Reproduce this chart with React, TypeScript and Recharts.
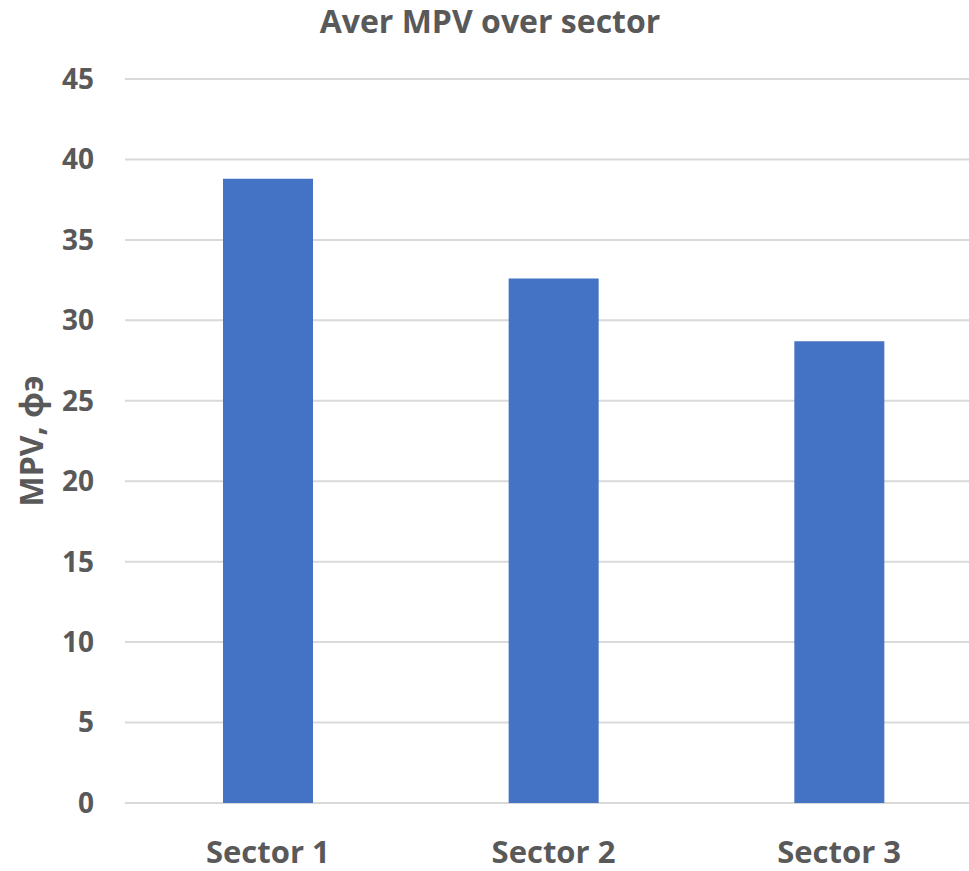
import React from 'react';
import { BarChart, Bar, XAxis, YAxis, CartesianGrid, Label } from 'recharts';

const categories = ['Sector 1', 'Sector 2', 'Sector 3'];
const mpvValues = [38.8, 32.6, 28.7];
const yTicks = [0, 5, 10, 15, 20, 25, 30, 35, 40, 45];

const data = categories.map((name, i) => ({ name, value: mpvValues[i] }));

const FONT = '"Open Sans", "Noto Sans", sans-serif';
const TEXT = '#595959';

export default function App() {
  return (
    <div style={{ position: 'absolute', left: 0, top: 0, width: 969, height: 871, overflow: 'hidden', background: '#fff' }}>
      <BarChart
        width={1000}
        height={871}
        data={data}
        margin={{ top: 79, right: 18, bottom: 0, left: 0 }}
        barSize={90}
      >
        <text x={490} y={33} textAnchor="middle" fontFamily={FONT} fontWeight={700} fontSize={32} fill={TEXT}>
          Aver MPV over sector
        </text>
        <CartesianGrid horizontal vertical={false} stroke="#D9D9D9" strokeWidth={2} />
        <XAxis
          dataKey="name"
          axisLine={false}
          tickLine={false}
          tickSize={0}
          tickMargin={38}
          height={68}
          interval={0}
          tick={{ fontFamily: FONT, fontWeight: 700, fontSize: 31, fill: TEXT }}
        />
        <YAxis
          domain={[0, 45]}
          ticks={yTicks}
          interval={0}
          axisLine={false}
          tickLine={false}
          tickSize={0}
          tickMargin={31}
          width={125}
          tick={{ fontFamily: FONT, fontWeight: 700, fontSize: 28, fill: TEXT }}
        >
          <Label
            value="MPV, фэ"
            angle={-90}
            position="insideLeft"
            offset={32}
            style={{ textAnchor: 'middle', fontFamily: FONT, fontWeight: 700, fontSize: 32, fill: TEXT }}
          />
        </YAxis>
        <Bar dataKey="value" fill="#4472C4" isAnimationActive={false} />
      </BarChart>
    </div>
  );
}
